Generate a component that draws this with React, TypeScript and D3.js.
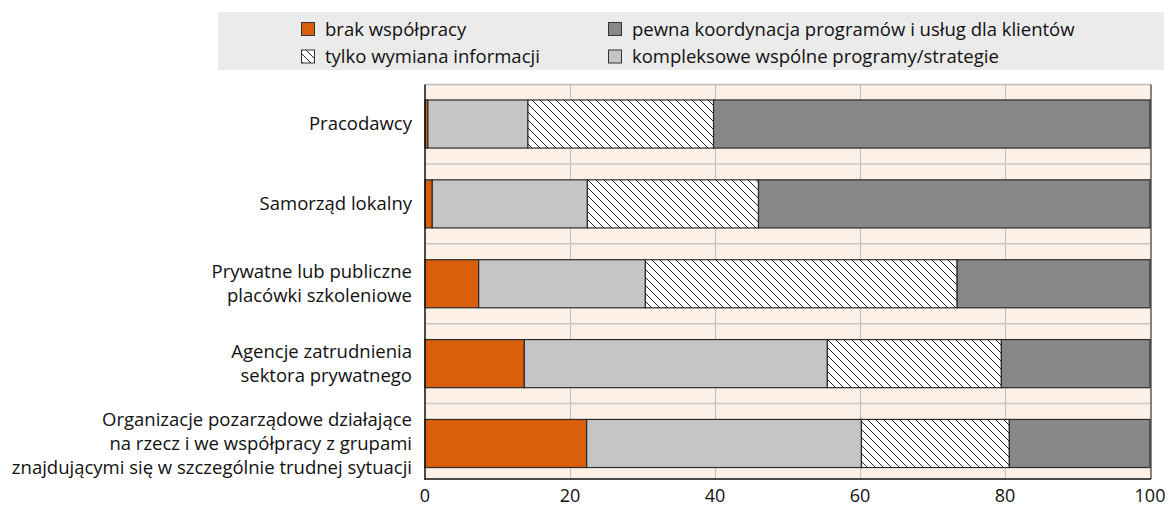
import React from "react";
import * as d3 from "d3";

const categories = [
  ["Pracodawcy"],
  ["Samorząd lokalny"],
  ["Prywatne lub publiczne", "placówki szkoleniowe"],
  ["Agencje zatrudnienia", "sektora prywatnego"],
  ["Organizacje pozarządowe działające", "na rzecz i we współpracy z grupami", "znajdującymi się w szczególnie trudnej sytuacji"],
];
const seriesNames = [
  "brak współpracy",
  "kompleksowe wspólne programy/strategie",
  "tylko wymiana informacji",
  "pewna koordynacja programów i usług dla klientów",
];
const brak = [0.4, 1.0, 7.4, 13.7, 22.3];
const kompleksowe = [13.8, 21.4, 23.0, 41.8, 37.9];
const tylko = [25.6, 23.6, 43.0, 24.0, 20.4];
const pewna = [60.2, 54.0, 26.6, 20.5, 19.4];
const xTicks = [0, 20, 40, 60, 80, 100];

const fills = ["#DA5F0C", "#C4C5C7", "url(#hatch)", "#87888A"];

export default function App() {
  const W = 1171, H = 507;
  const plot = { left: 425, right: 1151, top: 84.5, bottom: 479 };
  const x = d3.scaleLinear().domain([0, 100]).range([plot.left, plot.right - 1]);
  const keys = categories.map((c) => c.join(" "));
  const y = d3.scaleBand().domain(keys).range([84, 483.5]).paddingInner(0.398).paddingOuter(0.2);
  const rows = keys.map((k, i) => ({ key: k, v: [brak[i], kompleksowe[i], tylko[i], pewna[i]] }));
  const stack = d3.stack<any>().keys([0, 1, 2, 3] as any).value((d: any, k: any) => d.v[k]);
  const stacked = stack(rows as any);
  const font = "'Open Sans', sans-serif";
  const fs = 18.5;
  const midLines = keys.slice(0, -1).map((k) => (y(k)! + y.bandwidth() + y.step() * y.paddingInner() / 2));

  const legendItems = [
    { name: seriesNames[0], fill: fills[0], x: 301, y: 22 },
    { name: seriesNames[2], fill: fills[2], x: 301, y: 49.5 },
    { name: seriesNames[3], fill: fills[3], x: 608, y: 22 },
    { name: seriesNames[1], fill: fills[1], x: 608, y: 49.5 },
  ];

  return (
    <svg width={W} height={H} style={{ position: "absolute", left: 0, top: 0 }}>
      <defs>
        <pattern id="hatch" patternUnits="userSpaceOnUse" width="8" height="8">
          <rect width="8" height="8" fill="#fff" />
          <path d="M0,0 L8,8 M-2,6 L2,10 M6,-2 L10,2" stroke="#222" strokeWidth="1" />
        </pattern>
      </defs>
      <rect x={0} y={0} width={W} height={H} fill="#fff" />
      {/* legend */}
      <rect x={218} y={12} width={946} height={58} fill="#EBEBEB" />
      {legendItems.map((l) => (
        <g key={l.name}>
          <rect x={l.x + 0.5} y={l.y + 0.5} width={13} height={13} fill={l.fill} stroke="#333" strokeWidth={1} />
          <text x={l.x + 24} y={l.y + 13.5} fontFamily={font} fontSize={fs} fill="#111">{l.name}</text>
        </g>
      ))}
      {/* plot background */}
      <rect x={plot.left} y={plot.top} width={plot.right - plot.left} height={plot.bottom - plot.top} fill="#FDF1E7" />
      {xTicks.slice(1, -1).map((t) => (
        <line key={t} x1={x(t) + 0.5} x2={x(t) + 0.5} y1={plot.top} y2={plot.bottom} stroke="#C3C3C3" strokeWidth={1.2} />
      ))}
      {midLines.map((m, i) => (
        <line key={i} x1={plot.left} x2={plot.right} y1={m} y2={m} stroke="#C8C8C8" strokeWidth={1.5} />
      ))}
      {/* bars */}
      {stacked.map((s, si) => (
        <g key={si}>
          {s.map((d: any, i) => (
            <rect key={i} x={x(d[0])} y={y(keys[i])} width={Math.max(0, x(d[1]) - x(d[0]))} height={y.bandwidth()}
              fill={fills[si]} stroke="#2b2b2b" strokeWidth={1.2} />
          ))}
        </g>
      ))}
      {/* frame */}
      <line x1={plot.left} x2={plot.right} y1={plot.top} y2={plot.top} stroke="#BDBDBD" strokeWidth={1.5} />
      <line x1={plot.right} x2={plot.right} y1={plot.top} y2={plot.bottom} stroke="#333" strokeWidth={1.2} />
      <line x1={plot.left} x2={plot.left} y1={plot.top} y2={plot.bottom + 1} stroke="#111" strokeWidth={1.5} />
      <line x1={plot.left} x2={plot.right} y1={plot.bottom} y2={plot.bottom} stroke="#111" strokeWidth={1.5} />
      {/* x ticks */}
      {xTicks.map((t) => (
        <text key={t} x={x(t)} y={502} textAnchor="middle" fontFamily={font} fontSize={18} fill="#111">{t}</text>
      ))}
      {/* y labels */}
      {categories.map((lines, i) => {
        const cy = y(keys[i])! + y.bandwidth() / 2;
        const lh = 24;
        const start = cy - ((lines.length - 1) * lh) / 2;
        return (
          <text key={i} textAnchor="end" fontFamily={font} fontSize={fs} fill="#111">
            {lines.map((ln, j) => (
              <tspan key={j} x={412} y={start + j * lh} dy="0.35em">{ln}</tspan>
            ))}
          </text>
        );
      })}
    </svg>
  );
}
